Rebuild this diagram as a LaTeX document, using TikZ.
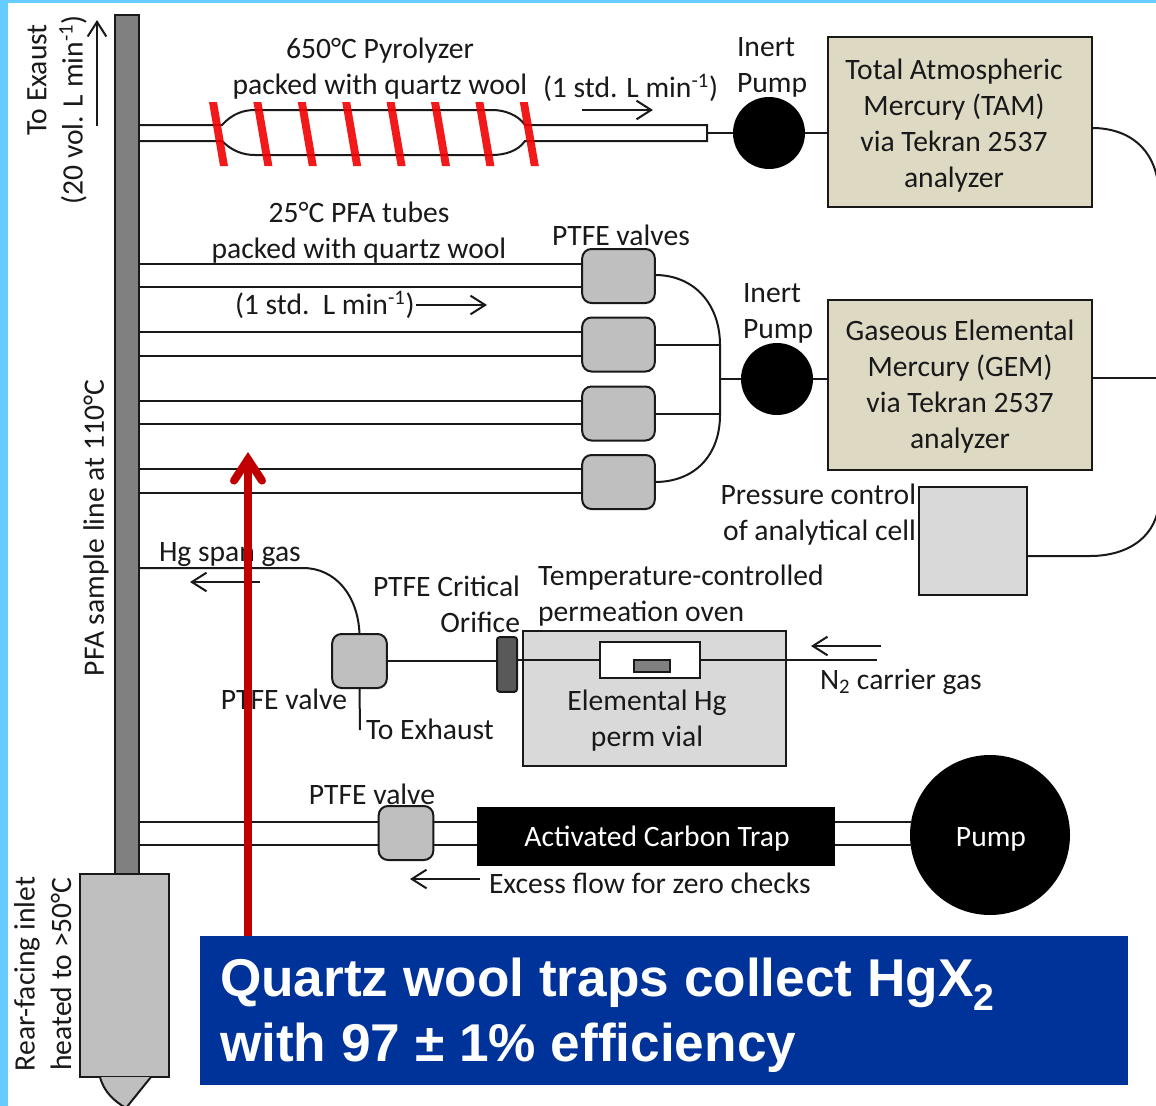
\documentclass[tikz,border=0pt]{standalone}
\usepackage{fontspec}
\setmainfont{Carlito}
\newfontfamily\titlefont{Liberation Sans}
\usetikzlibrary{arrows.meta}
\usetikzlibrary{calc}
\definecolor{skyedge}{HTML}{66CCFF}
\definecolor{analyzertan}{HTML}{DDD9C3}
\definecolor{valvegray}{HTML}{BFBFBF}
\definecolor{ovengray}{HTML}{D9D9D9}
\definecolor{calloutblue}{HTML}{003399}
\definecolor{darkred}{HTML}{C00000}
\begin{document}
\begin{tikzpicture}[
  x=0.75pt, y=-0.75pt,
  every node/.style={inner sep=0pt, outer sep=0pt, font=\fontsize{22.2}{27}\selectfont, text=black!90},
  tube/.style={draw=black!90, line width=1.5pt},
  flow/.style={draw=black!90, line width=1.5pt, -{Straight Barb[length=11pt,width=14pt,line width=1.5pt]}},
  box/.style={draw=black!90, line width=1.5pt},
  analyzer/.style={box, fill=analyzertan, minimum width=198pt, minimum height=127.5pt},
  valvebig/.style={box, fill=valvegray, rounded corners=7pt, minimum width=54.5pt, minimum height=40.5pt},
  valvesmall/.style={valvebig, minimum width=41pt},
  pumpdot/.style={circle, fill=black, minimum size=54pt},
  heater/.style={fill=red!94!black, opacity=0.9},
  label/.style={align=center}
]
\useasboundingbox (0,0) rectangle (1156,1106);
\fill[skyedge] (0,0) rectangle (1156,1106);
\fill[white] (8,3) rectangle (1156,1106);

% main sample line and inlet
\node[box, fill=black!50, minimum width=18pt, minimum height=645pt] (sampleline) at (127,445) {};
\node[box, fill=valvegray, minimum width=66.75pt, minimum height=152.25pt] (inlet) at (124.5,975.5) {};
\draw[box, fill=valvegray] (100,1077) .. controls (104,1092) and (114,1101) .. (126,1108) -- (151,1077);
\coordinate (topupper) at (222,125);
\coordinate (toplower) at (222,141);

% pyrolyzer
\node[pumpdot] (pumpa) at (769,133) {};
\node[analyzer] (tam) at (960,122) {};
\coordinate (pyroend) at (707,133);
\draw[tube] (sampleline.east |- topupper) -- (topupper) .. controls (232,114) and (243,110) .. (255,110)
  -- (492,110) .. controls (505,110) and (518,115) .. (525,125) -- (707,125) -- (707,141) -- (525,141)
  .. controls (518,151) and (505,155) .. (492,155) -- (255,155) .. controls (243,155) and (232,151) .. (toplower)
  -- (sampleline.east |- toplower);
\foreach \n in {0,...,7}
  \fill[heater] ({209+44.4*\n},102) -- ({217+44.4*\n},102) -- ({228+44.4*\n},166) -- ({220+44.4*\n},166) -- cycle;
\draw[tube] (pyroend) -- (pumpa);
\draw[tube] (pumpa) -- (tam.west |- pumpa);

% quartz wool tubes and valves
\node[valvebig] (valvea) at (618.5,276) {};
\node[valvebig] (valveb) at (618.5,344.5) {};
\node[valvebig] (valvec) at (618.5,413.5) {};
\node[valvebig] (valved) at (618.5,482) {};
\foreach \name/\ya/\yb in {valvea/264/287, valveb/332/356, valvec/401/424, valved/469/493} {
  \draw[tube] (139,\ya) -- (\name.west |- 0,\ya);
  \draw[tube] (139,\yb) -- (\name.west |- 0,\yb);
}
\node[pumpdot] (pumpb) at (777,379) {};
\node[analyzer] (gem) at (960,385) {};
\coordinate (manifold) at (720,379);
\draw[tube] (valvea.east) ++(0,-1) .. controls (695,275) and (720,305) .. (720,345) -- (720,415)
  .. controls (720,455) and (695,482) .. (valved.east);
\draw[tube] (valveb.east) -- (manifold |- valveb.east);
\draw[tube] (valvec.east) -- (manifold |- valvec.east);
\draw[tube] (manifold) -- (pumpb);
\draw[tube] (pumpb) -- (gem.west |- pumpb);

% analyzer exhaust to pressure box
\node[box, fill=ovengray, minimum width=81pt, minimum height=81pt] (pressure) at (973,541) {};
\draw[tube] (tam.east |- 0,128) .. controls (1130,128) and (1158,150) .. (1159,195) -- (1159,500)
  .. controls (1158,535) and (1130,556) .. (1090,556) -- (pressure.east |- 0,556);
\draw[tube] (gem.east |- 0,378) -- (1159,378);

% span gas and oven
\node[valvesmall] (valvespan) at (359.5,661) {};
\node[box, fill=black!65, rounded corners=2pt, minimum width=15pt, minimum height=41pt] (orifice) at (507,664.5) {};
\node[box, fill=ovengray, minimum width=197pt, minimum height=101pt] (oven) at (654.5,698.5) {};
\node[box, fill=white, minimum width=75pt, minimum height=27pt] (vial) at (650,660) {};
\node[box, fill=black!50, minimum width=27pt, minimum height=9pt] (permtube) at (652,666) {};
\coordinate (exhaustend) at (360,730);
\coordinate (carrierend) at (877,660);
\draw[tube] (sampleline.east |- 0,568) -- (303,568) .. controls (335,568) and (358,595) .. (valvespan.north);
\draw[tube] (valvespan.south) -- (exhaustend);
\draw[tube] (valvespan.east) -- (orifice.west |- valvespan.east);
\draw[tube] (orifice.east |- vial.west) -- (vial.west);
\draw[tube] (vial.east) -- (carrierend);

% zero air loop
\node[valvesmall] (valvezero) at (406,833) {};
\node[fill=black, minimum width=268.5pt, minimum height=44.25pt] (carbon) at (656,836.5) {};
\node[circle, fill=black, minimum size=120pt] (pumpc) at (990,835) {};
\foreach \yy in {822,845} {
  \draw[tube] (sampleline.east |- 0,\yy) -- (valvezero.west |- 0,\yy);
  \draw[tube] (valvezero.east |- 0,\yy) -- (carbon.west |- 0,\yy);
  \draw[tube] (carbon.east |- 0,\yy) -- (912,\yy);
}

% flow arrows
\coordinate (exa) at (97,126);   \coordinate (exb) at (97,20);
\coordinate (pya) at (582,110);  \coordinate (pyb) at (653,110);
\coordinate (qwa) at (416,305);  \coordinate (qwb) at (487,305);
\coordinate (spa) at (260,582);  \coordinate (spb) at (190,582);
\coordinate (cga) at (881,646);  \coordinate (cgb) at (811,646);
\coordinate (efa) at (480,879);  \coordinate (efb) at (410,879);
\foreach \from/\to in {exa/exb, pya/pyb, qwa/qwb, spa/spb, cga/cgb, efa/efb}
  \draw[flow] (\from) -- (\to);

% labels
\node[rotate=90] (lblexaust) at (37,80) {To Exaust};
\node[rotate=90] (lblvol) at (73,110) {(20 vol. L min\textsuperscript{-1})};
\node[rotate=90] (lblsample) at (96,528) {PFA sample line at 110°C};
\node[rotate=90] (lblrear) at (27,974) {Rear-facing inlet};
\node[rotate=90] (lblheated) at (61,974) {heated to >50°C};
\node[label] (lblpyro) at (380,69) {650°C Pyrolyzer\\packed with quartz wool};
\node[anchor=west] (lblstda) at (543,88) {(1 std. L min\textsuperscript{-1})};
\node[align=left, anchor=west] (lblinerta) at (737,67) {Inert\\Pump};
\node[label] (lbltam) at (954,126) {Total Atmospheric\\Mercury (TAM)\\via Tekran 2537\\analyzer};
\node[label] (lblpfa) at (359,233) {25°C PFA tubes\\packed with quartz wool};
\node (lblvalves) at (621,235) {PTFE valves};
\node[anchor=west] (lblstdb) at (235,305) {(1 std.\ \ L min\textsuperscript{-1})};
\node[align=left, anchor=west] (lblinertb) at (743,313) {Inert\\Pump};
\node[label] (lblgem) at (960,387) {Gaseous Elemental\\Mercury (GEM)\\via Tekran 2537\\analyzer};
\node[align=right, anchor=east] (lblpressure) at (916,515) {Pressure control\\of analytical cell};
\node[anchor=west] (lblspan) at (159,555) {Hg span gas};
\node[align=right, anchor=east] (lblorifice) at (520,604) {PTFE Critical\\Orifice};
\node[align=left, anchor=west] (lbloven) at (538,596) {Temperature-controlled\\permeation oven};
\node (lblvalve) at (284,699) {PTFE valve};
\node[anchor=west] (lblexhaust) at (366,729) {To Exhaust};
\node[label] (lblperm) at (647,721) {Elemental Hg\\perm vial};
\node[anchor=west] (lblcarrier) at (820,682) {N\textsubscript{2} carrier gas};
\node (lblzero) at (372,794) {PTFE valve};
\node[anchor=west] (lblexcess) at (489,883) {Excess flow for zero checks};
\node[text=white] (lblcarbon) at (657,839) {Activated Carbon Trap};
\node[text=white] (lblpump) at (991,839) {Pump};

% callout
\coordinate (redtip) at (248,452);
\node[fill=calloutblue, minimum width=696pt, minimum height=111.75pt] (callout) at (664,1010.5) {};
\draw[line width=6pt, draw=darkred, -{Straight Barb[length=16pt,width=21pt,line width=6pt,line cap=round,line join=miter]}] (callout.north -| redtip) -- (redtip);
\node[anchor=west, align=left, text=white, font=\titlefont\bfseries\fontsize{39.9}{49}\selectfont] (calloutlabel) at (220,1015) {Quartz wool traps collect HgX\textsubscript{2}\\with 97 ± 1\% efficiency};
\end{tikzpicture}
\end{document}
